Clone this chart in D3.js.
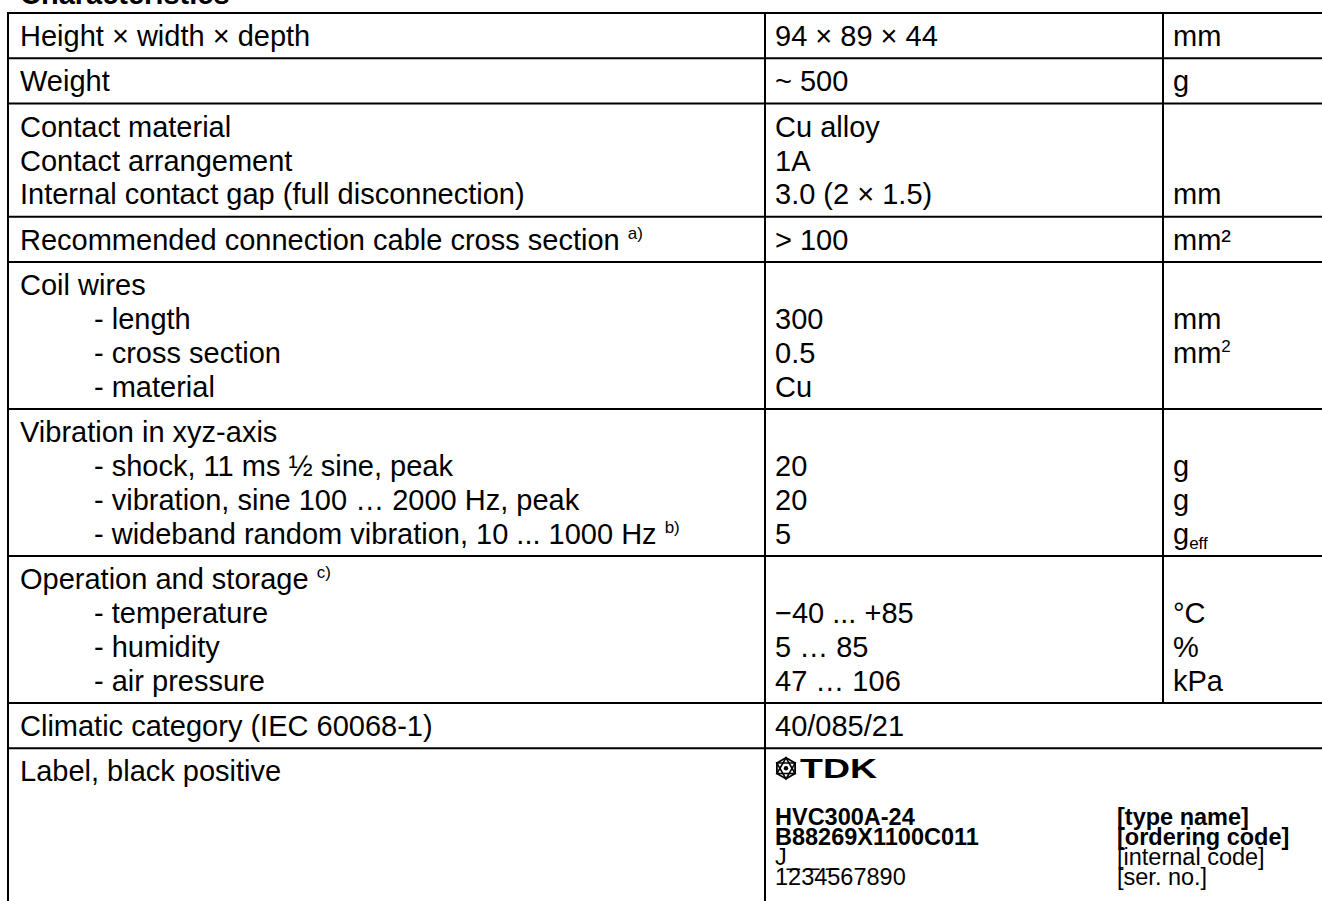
<!DOCTYPE html>
<html><head><meta charset="utf-8">
<script src="https://cdn.jsdelivr.net/npm/d3@7"></script>
<style>html,body{margin:0;padding:0;background:#fff;} svg{display:block}</style>
</head><body><svg id="c" width="1322" height="901"></svg>
<script>
// ---- data ----
const title = "Characteristics";
const parameters = [
  ["Height × width × depth"],
  ["Weight"],
  ["Contact material", "Contact arrangement", "Internal contact gap (full disconnection)"],
  ["Recommended connection cable cross section ^{a)}"],
  ["Coil wires", "\t- length", "\t- cross section", "\t- material"],
  ["Vibration in xyz-axis", "\t- shock, 11 ms ½ sine, peak", "\t- vibration, sine 100 … 2000 Hz, peak", "\t- wideband random vibration, 10 ... 1000 Hz ^{b)}"],
  ["Operation and storage ^{c)}", "\t- temperature", "\t- humidity", "\t- air pressure"],
  ["Climatic category (IEC 60068-1)"],
  ["Label, black positive"]
];
const values = [
  ["94 × 89 × 44"],
  ["~ 500"],
  ["Cu alloy", "1A", "3.0 (2 × 1.5)"],
  ["> 100"],
  ["", "300", "0.5", "Cu"],
  ["", "20", "20", "5"],
  ["", "−40 ... +85", "5 … 85", "47 … 106"],
  ["40/085/21"],
  null
];
const units = [
  ["mm"],
  ["g"],
  ["", "", "mm"],
  ["mm²"],
  ["", "mm", "mm^{2}", ""],
  ["", "g", "g", "g_{eff}"],
  ["", "°C", "%", "kPa"],
  null,
  null
];
const labelBrand = "TDK";
const labelCodes = ["HVC300A-24", "B88269X1100C011", "J_ _ _", "1234567890"];
const labelNotes = ["[type name]", "[ordering code]", "[internal code]", "[ser. no.]"];
const labelBold = [true, true, false, false];

// ---- layout ----
const W = 1322, H = 901;
const FONT = "'Liberation Sans', Arial, Helvetica, sans-serif";
const FS = 29, LINE = 33.9, ROW1 = 45.3, TOP = 13;
const colX = [8, 765, 1163, 1340];
const padX = [12, 10, 10];
const indent = 86;
const svg = d3.select("#c");

const rowTops = [TOP];
parameters.forEach((p, i) => {
  const h = (i === parameters.length - 1) ? 200 : ROW1 + LINE * (p.length - 1);
  rowTops.push(rowTops[i] + h);
});
const y = d3.scaleLinear().domain([0, 1]).range([0, LINE]); // line index -> offset

// title (cut off by the top edge, as in the reference)
svg.append("text").attr("x", 20).attr("y", 4)
  .attr("font-family", FONT).attr("font-size", FS).attr("font-weight", "bold")
  .text(title);

function richText(g, str, x, yb, opts = {}) {
  const t = g.append("text").attr("x", x).attr("y", yb)
    .attr("font-family", FONT).attr("font-size", opts.size || FS)
    .attr("font-weight", opts.bold ? "bold" : "normal").attr("fill", "#000");
  const parts = str.split(/(\^\{[^}]*\}|_\{[^}]*\})/).filter(s => s.length);
  let off = 0;
  parts.forEach(p => {
    let target = 0, txt = p, size = null;
    if (p.startsWith("^{")) { target = -11; txt = p.slice(2, -1); size = 17; }
    else if (p.startsWith("_{")) { target = 5; txt = p.slice(2, -1); size = 17; }
    const ts = t.append("tspan").attr("dy", target - off).text(txt);
    if (size) ts.attr("font-size", size);
    off = target;
  });
  return t;
}

const g = svg.append("g");
function cellLines(lines, ci, ri) {
  if (!lines) return;
  lines.forEach((s, li) => {
    if (!s) return;
    let x = colX[ci] + padX[ci];
    if (s.startsWith("\t")) { s = s.slice(1); x = colX[ci] + indent; }
    richText(g, s, x, rowTops[ri] + 33 + y(li));
  });
}
parameters.forEach((p, ri) => {
  cellLines(p, 0, ri);
  cellLines(values[ri], 1, ri);
  cellLines(units[ri], 2, ri);
});

// label row content
const lr = parameters.length - 1;
const lt = rowTops[lr];
const logo = svg.append("g").attr("transform", `translate(${colX[1] + 21},${lt + 20})`);
const R = 10.5;
const hex = d3.range(6).map(k => [R * Math.cos(Math.PI / 6 + k * Math.PI / 3), R * Math.sin(Math.PI / 6 + k * Math.PI / 3)]);
logo.append("path").attr("d", d3.line()(hex) + "Z").attr("fill", "none").attr("stroke", "#000").attr("stroke-width", 1.8);
[[0, 2, 4], [1, 3, 5]].forEach(tri => {
  logo.append("path").attr("d", d3.line()(tri.map(k => hex[k])) + "Z").attr("fill", "none").attr("stroke", "#000").attr("stroke-width", 1.6);
});
logo.append("circle").attr("r", 2.2).attr("fill", "#000");
svg.append("text").attr("x", colX[1] + 35).attr("y", lt + 30)
  .attr("font-family", FONT).attr("font-size", 28).attr("font-weight", "900")
  .attr("textLength", 77).attr("lengthAdjust", "spacingAndGlyphs").text(labelBrand);
labelCodes.forEach((s, i) => {
  richText(g, s, colX[1] + padX[1], lt + 77 + i * 20, { size: 23.5, bold: labelBold[i] });
  richText(g, labelNotes[i], 1117, lt + 77 + i * 20, { size: 23.5, bold: labelBold[i] });
});

// ---- grid lines ----
const grid = svg.append("g").attr("stroke", "#000").attr("stroke-width", 2);
rowTops.slice(0, -1).forEach(t => {
  grid.append("line").attr("x1", colX[0] - 1).attr("x2", W + 10).attr("y1", t).attr("y2", t);
});
parameters.forEach((p, ri) => {
  const y0 = rowTops[ri], y1 = rowTops[ri + 1];
  grid.append("line").attr("x1", colX[0]).attr("x2", colX[0]).attr("y1", y0).attr("y2", y1);
  grid.append("line").attr("x1", colX[1]).attr("x2", colX[1]).attr("y1", y0).attr("y2", y1);
  if (units[ri]) grid.append("line").attr("x1", colX[2]).attr("x2", colX[2]).attr("y1", y0).attr("y2", y1);
});
</script></body></html>
